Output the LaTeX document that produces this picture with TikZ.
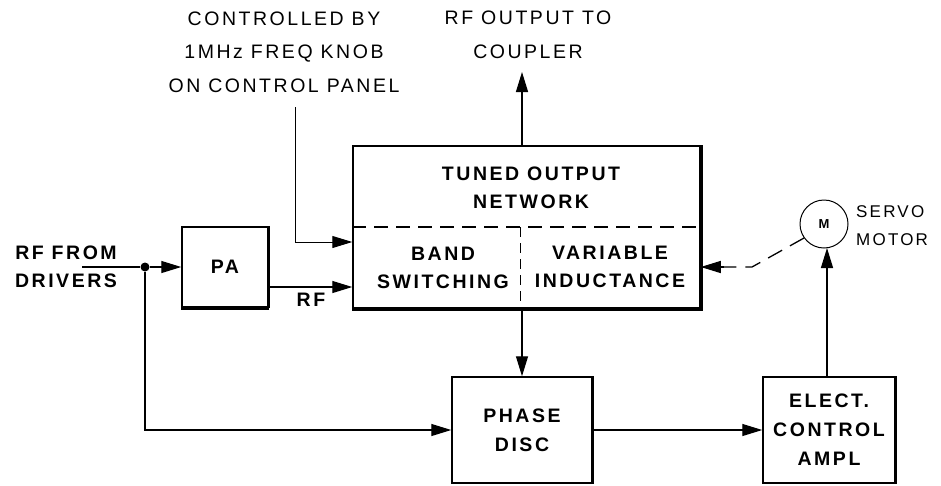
\documentclass[tikz,border=0pt]{standalone}
\usepackage{fontspec}
\setmainfont{Liberation Sans}
\newfontfamily\lab[LetterSpace=13]{Liberation Sans}
\usetikzlibrary{arrows.meta}
\begin{document}
\begin{tikzpicture}[x=1pt,y=-1pt,
  box/.style={draw, line width=1.5pt, inner sep=0pt, align=center,
    font=\lab\bfseries\fontsize{19.5}{29}\selectfont},
  shadowedge/.style={line width=3.5pt},
  conn/.style={line width=1.3pt, -{Triangle[length=20pt,width=12pt]}},
  plainline/.style={line width=1.3pt},
  txt/.style={font=\lab\fontsize{19.5}{33.5}\selectfont, align=center, inner sep=0pt},
  btxt/.style={font=\lab\bfseries\fontsize{19.5}{28.5}\selectfont, align=center, inner sep=0pt}]
\useasboundingbox[fill=white] (0,0) rectangle (941,485);

% boxes
\node[box, minimum width=347pt, minimum height=162pt] (TON) at (526.5,227) {};
\node[box, minimum width=86pt, minimum height=80pt] (PA) at (225,267) {PA};
\node[box, minimum width=140pt, minimum height=106pt] (PD) at (522,430) {PHASE\\DISC};
\node[box, minimum width=132pt, minimum height=106pt] (ECA) at (829,430) {ELECT.\\CONTROL\\AMPL};
\node[draw, circle, line width=1pt, minimum size=48pt, inner sep=0pt,
  font=\bfseries\fontsize{13}{13}\selectfont] (M) at (824,224) {M};

% heavy bottom/right edges
\draw[shadowedge] (TON.south west) -- (TON.south east) -- (TON.north east);
\draw[shadowedge] (PA.south west) -- (PA.south east);
\draw[line width=2.2pt] (PA.south east) -- (PA.north east);
\draw[line width=2.4pt] (PD.south east) -- (PD.north east);
\draw[line width=2pt] (ECA.south east) -- (ECA.north east);

% internal dividers of tuned network
\draw[line width=1.4pt, dash pattern=on 14pt off 8pt] (TON.west |- 0,227) -- (TON.east |- 0,227);
\draw[line width=1pt, dash pattern=on 10pt off 6pt] (520,227) -- (TON.south -| 520,0);

% texts
\node[btxt] (tontxt) at (531,188) {TUNED OUTPUT\\NETWORK};
\node[btxt] (bandtxt) at (443,268) {BAND\\SWITCHING};
\node[btxt] (vartxt) at (610,267) {VARIABLE\\INDUCTANCE};
\node[btxt] (rffrom) at (66,267) {RF FROM\\DRIVERS};
\node[btxt] (rflab) at (311,300) {RF};
\node[txt] (ctltxt) at (284,52) {CONTROLLED BY\\1MHz FREQ KNOB\\ON CONTROL PANEL};
\node[txt] (outtxt) at (528,35) {RF OUTPUT TO\\COUPLER};
\node[txt, align=left, anchor=west, font=\lab\fontsize{17}{28}\selectfont] (servotxt) at (856,226) {SERVO\\MOTOR};

% connectors
\coordinate (in) at (82,267);
\node[circle, fill, inner sep=0pt, minimum size=9pt] (dot) at (145,267) {};
\draw[plainline] (in) -- (dot);
\draw[conn] (dot) -- (PA.west);
\draw[conn] (dot) |- (PD.west);
\draw[conn] (PA.east |- 0,287) -- (TON.west |- 0,287);
\coordinate (ctl) at (295,107);
\draw[conn, line width=1pt] (ctl) |- (TON.west |- 0,242);
\coordinate (out) at (522,72);
\draw[conn] (TON.north -| out) -- (out);
\draw[conn] (TON.south -| PD.north) -- (PD.north);
\draw[conn] (PD.east) -- (ECA.west);
\draw[conn] (ECA.north -| 827,0) -- (827,248);
\coordinate (bend) at (752,267);
\draw[plainline, dash pattern=on 16pt off 9pt] (M.215) -- (bend) -- (724,267);
\draw[conn] (724,267) -- (TON.east |- 0,267);
\end{tikzpicture}
\end{document}
